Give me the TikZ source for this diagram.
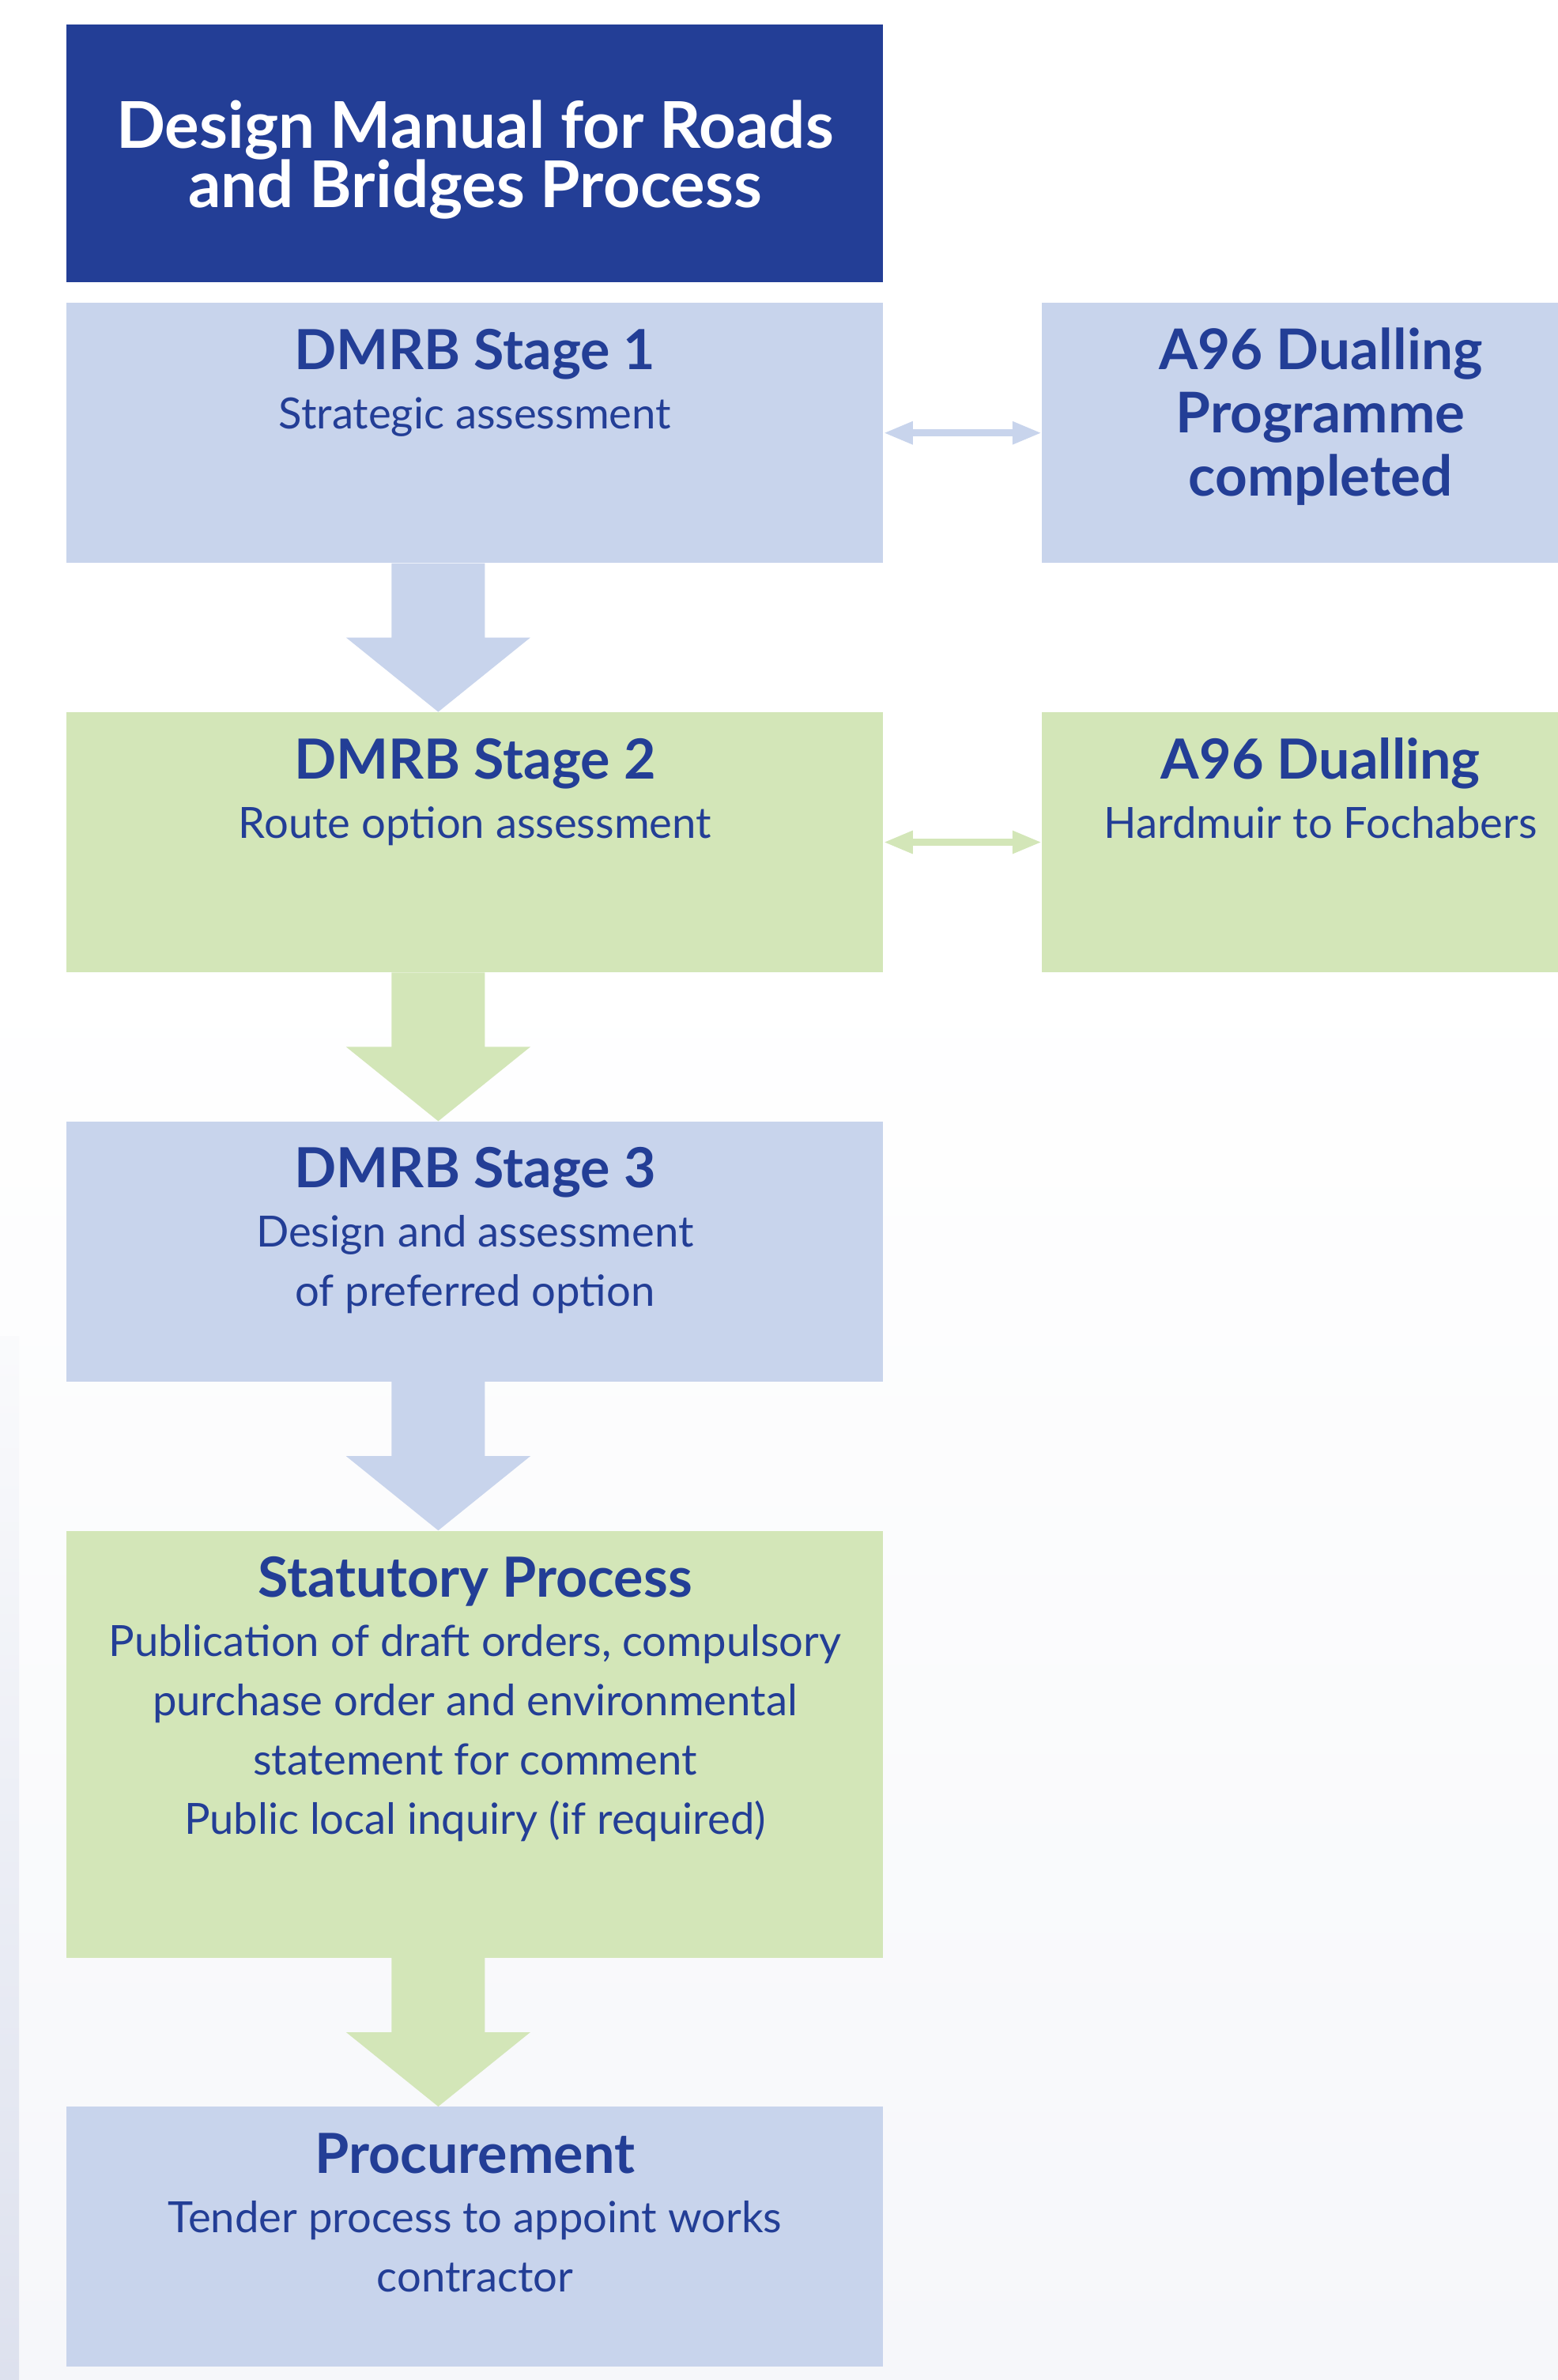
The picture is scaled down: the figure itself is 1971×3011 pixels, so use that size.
\documentclass[tikz,border=0pt]{standalone}
\usepackage{fontspec}
\setmainfont{Lato}
\usetikzlibrary{positioning,arrows.meta}

\definecolor{dmrbnavy}{RGB}{35,62,150}
\definecolor{stageblue}{RGB}{200,212,236}
\definecolor{stagegreen}{RGB}{211,230,184}
\definecolor{paperlow}{RGB}{246,247,250}
\definecolor{edgeblue}{RGB}{221,225,238}

% keep baselines at a fixed distance
\newcommand{\snug}{\lineskiplimit=-30pt\relax}

\tikzset{
    stagebox/.style={rectangle, fill=#1, inner sep=0pt, anchor=north west,
        minimum width=516.5pt, minimum height=164.5pt},
    stagetext/.style={inner sep=0pt, align=center, text=dmrbnavy,
        font=\fontsize{27.2}{37.5}\selectfont\snug},
    linkarrow/.style={#1, line width=4.35pt,
        {Triangle[length=18.5pt,width=13.5pt]}-{Triangle[length=18.5pt,width=13.5pt]}}
}

% bold first line of a stage box
\newcommand{\stagetitle}[1]{{\bfseries\fontsize{35}{37.5}\selectfont\strut #1}}

% fat down arrow between two stages
\newcommand{\stagearrow}[3]{%
    \fill[#3] ([xshift=-52.75pt]#1.south) -- ([xshift=6.25pt]#1.south)
        -- ([xshift=6.25pt,yshift=47pt]#2.north) -- ([xshift=35pt,yshift=47pt]#2.north)
        -- ([xshift=-23.25pt]#2.north)
        -- ([xshift=-81.5pt,yshift=47pt]#2.north) -- ([xshift=-52.75pt,yshift=47pt]#2.north)
        -- cycle;}

\begin{document}
\begin{tikzpicture}[x=0.5pt, y=-0.5pt]
        % Page and background
        \useasboundingbox (0,0) rectangle (1971,3011);
        \clip (0,0) rectangle (1971,3011);
        \fill[white] (0,0) rectangle (1971,3011);
        \shade[top color=white, bottom color=paperlow] (0,1200) rectangle (1971,3011);
        \shade[top color=white!40!paperlow, bottom color=edgeblue] (0,1690) rectangle (24,3011);

        % Boxes
        \node[stagebox=dmrbnavy, minimum height=163pt] (head) at (84,31) {};
        \node[stagebox=stageblue, below=12.5pt of head] (s1) {};
        \node[stagebox=stagegreen, below=94pt of s1] (s2) {};
        \node[stagebox=stageblue, below=94pt of s2] (s3) {};
        \node[stagebox=stagegreen, minimum height=270pt, below=94pt of s3] (stat) {};
        \node[stagebox=stageblue, below=94pt of stat] (proc) {};
        \node[stagebox=stageblue, minimum width=352.5pt, right=100pt of s1] (a96a) {};
        \node[stagebox=stagegreen, minimum width=352.5pt, right=100pt of s2] (a96b) {};

        % Texts
        \node[stagetext, text=white, font=\bfseries\fontsize{40.8}{37.5}\selectfont\snug,
            below=47.5pt of head.north] (headt)
            {\rule{0pt}{26.25pt}Design Manual for Roads\\and Bridges Process};
        \node[stagetext, below=15.75pt of s1.north] (s1t)
            {\stagetitle{DMRB Stage 1}\\Strategic assessment};
        \node[stagetext, below=15.75pt of s2.north] (s2t)
            {\stagetitle{DMRB Stage 2}\\Route option assessment};
        \node[stagetext, below=15.75pt of s3.north] (s3t)
            {\stagetitle{DMRB Stage 3}\\Design and assessment\\of preferred option};
        \node[stagetext, below=15.75pt of stat.north] (statt)
            {\stagetitle{Statutory Process}\\Publication of draft orders, compulsory\\
            purchase order and environmental\\statement for comment\\Public local inquiry (if required)};
        \node[stagetext, below=15.75pt of proc.north] (proct)
            {\stagetitle{Procurement}\\Tender process to appoint works\\contractor};
        \node[stagetext, font=\bfseries\fontsize{35.5}{40}\selectfont\snug,
            below=14pt of a96a.north] (a96at)
            {\strut A96 Dualling\\Programme\\completed};
        \node[stagetext, below=15.75pt of a96b.north] (a96bt)
            {\stagetitle{A96 Dualling}\\Hardmuir to Fochabers};

        % Flow arrows
        \stagearrow{s1}{s2}{stageblue}
        \stagearrow{s2}{s3}{stagegreen}
        \stagearrow{s3}{stat}{stageblue}
        \stagearrow{stat}{proc}{stagegreen}

        % Links to the A96 boxes
        \draw[linkarrow=stageblue] (s1.east) -- (a96a.west);
        \draw[linkarrow=stagegreen] (s2.east) -- (a96b.west);
\end{tikzpicture}
\end{document}
